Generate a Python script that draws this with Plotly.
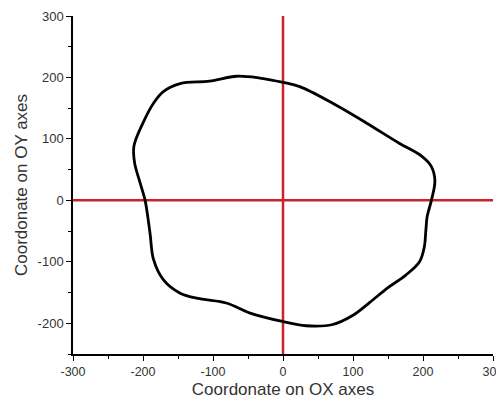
import plotly.graph_objects as go

# Contour coordinates
contour_x = [0, 24, 71, 119, 166, 198, 212, 217, 212, 206, 204, 202, 195, 175, 150, 124, 100, 71, 33, -1,
             -48, -81, -119, -147, -171, -185, -190, -197, -204, -212, -213, -200, -185, -171, -147, -105,
             -66, -33, 0]
contour_y = [192, 185, 158, 126, 93, 72, 55, 32, 0, -26, -50, -75, -100, -122, -142, -166, -187, -202, -204, -197,
             -183, -167, -160, -151, -129, -96, -53, 0, 28, 61, 88, 126, 158, 177, 190, 194,
             202, 199, 192]

# Red reference axes
vline_x = [0, 0]
vline_y = [-250, 300]
hline_x = [-300, 300]
hline_y = [0, 0]

x_ticks = [-300, -200, -100, 0, 100, 200, 300]
x_labels = ["-300", "-200", "-100", "0", "100", "200", "300"]
y_ticks = [-200, -100, 0, 100, 200, 300]
y_labels = ["-200", "-100", "0", "100", "200", "300"]

red = "#CC2229"
font_family = "Liberation Sans, Arial, sans-serif"

fig = go.Figure()
fig.add_trace(go.Scatter(x=hline_x, y=hline_y, mode="lines",
                         line=dict(color=red, width=2.5), hoverinfo="skip"))
fig.add_trace(go.Scatter(x=vline_x, y=vline_y, mode="lines",
                         line=dict(color=red, width=2.5), hoverinfo="skip"))
fig.add_trace(go.Scatter(x=contour_x, y=contour_y, mode="lines",
                         line=dict(color="black", width=2.8, shape="spline", smoothing=1.0)))

axis_common = dict(
    showline=True, linecolor="black", linewidth=1.5,
    ticks="outside", ticklen=5, tickwidth=1.3, tickcolor="black",
    showgrid=False, zeroline=False, automargin=False, ticklabeloverflow="allow",
    minor=dict(dtick=50, ticks="outside", ticklen=3, tickwidth=1.2, tickcolor="black", showgrid=False),
)

fig.update_layout(
    width=496, height=391,
    margin=dict(l=65, r=11, t=8, b=45),
    paper_bgcolor="white", plot_bgcolor="white",
    showlegend=False,
    xaxis=dict(range=[-300, 300], tickvals=x_ticks, ticktext=x_labels, **axis_common,
               tickfont=dict(family=font_family, size=12.5, color="#333333"),
               title=dict(text="Coordonate on OX axes", standoff=6,
                          font=dict(family=font_family, size=17, color="#333333"))),
    yaxis=dict(range=[-250, 300], tickvals=y_ticks, ticktext=y_labels, **axis_common,
               tickfont=dict(family=font_family, size=13, color="#333333"),
               title=dict(text="Coordonate on OY axes", standoff=6,
                          font=dict(family=font_family, size=17, color="#333333"))),
)

fig.write_html("out.html")
